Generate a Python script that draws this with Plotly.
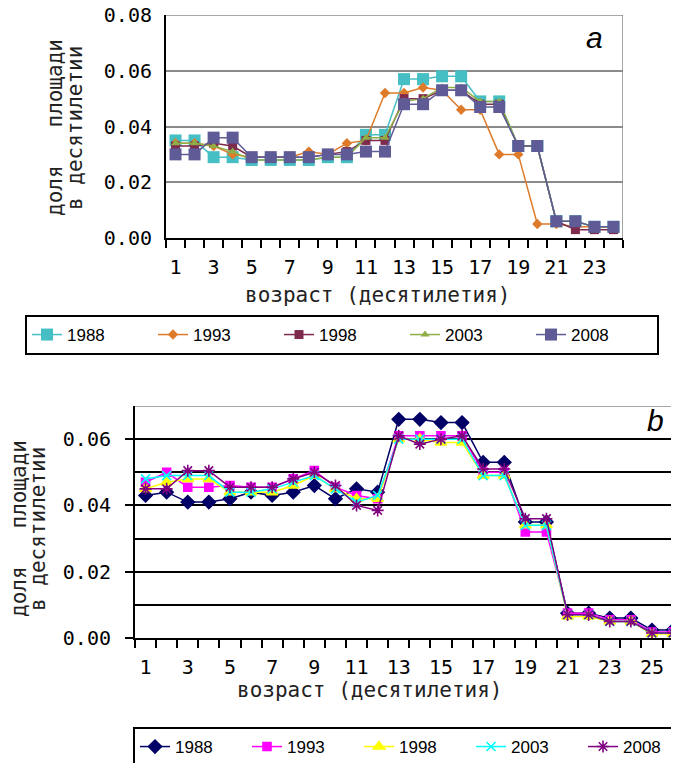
import plotly.graph_objects as go

# page body has an 8px margin: the figure is placed at (8, 8) in the window
OX, OY = 8, 8
W, H = 671, 755

# ---------------- data ----------------
ages_a = list(range(1, 25))
ages_b = list(range(1, 27))
years = ["1988", "1993", "1998", "2003", "2008"]

a_1988 = [0.035, 0.035, 0.029, 0.029, 0.028, 0.028, 0.028, 0.028, 0.029, 0.029, 0.037, 0.037,
          0.057, 0.057, 0.058, 0.058, 0.049, 0.049, 0.033, 0.033, 0.006, 0.006, 0.004, 0.004]
a_1993 = [0.034, 0.034, 0.033, 0.030, 0.029, 0.029, 0.029, 0.031, 0.030, 0.034, 0.035, 0.052,
          0.052, 0.054, 0.053, 0.046, 0.046, 0.030, 0.030, 0.005, 0.005, 0.004, 0.004, 0.004]
a_1998 = [0.033, 0.033, 0.034, 0.033, 0.029, 0.029, 0.029, 0.029, 0.030, 0.031, 0.035, 0.035,
          0.050, 0.050, 0.053, 0.053, 0.048, 0.048, 0.033, 0.033, 0.006, 0.003, 0.003, 0.003]
a_2003 = [0.034, 0.034, 0.033, 0.031, 0.028, 0.028, 0.028, 0.028, 0.029, 0.029, 0.036, 0.036,
          0.049, 0.050, 0.054, 0.054, 0.049, 0.049, 0.033, 0.033, 0.006, 0.006, 0.004, 0.004]
a_2008 = [0.030, 0.030, 0.036, 0.036, 0.029, 0.029, 0.029, 0.029, 0.030, 0.030, 0.031, 0.031,
          0.048, 0.048, 0.053, 0.053, 0.047, 0.047, 0.033, 0.033, 0.006, 0.006, 0.004, 0.004]

b_1988 = [0.043, 0.044, 0.041, 0.041, 0.042, 0.044, 0.043, 0.044, 0.046, 0.042, 0.045, 0.044, 0.066,
          0.066, 0.065, 0.065, 0.053, 0.053, 0.035, 0.035, 0.0075, 0.0075, 0.006, 0.006, 0.0024, 0.0024]
b_1993 = [0.047, 0.050, 0.0455, 0.0455, 0.046, 0.0455, 0.0455, 0.048, 0.0505, 0.0455, 0.043, 0.042, 0.061,
          0.061, 0.061, 0.061, 0.050, 0.050, 0.032, 0.032, 0.0075, 0.0075, 0.0055, 0.0055, 0.0018, 0.0018]
b_1998 = [0.045, 0.047, 0.048, 0.048, 0.044, 0.044, 0.044, 0.046, 0.049, 0.045, 0.042, 0.042, 0.060,
          0.060, 0.059, 0.059, 0.049, 0.049, 0.034, 0.034, 0.0065, 0.0065, 0.005, 0.005, 0.0012, 0.0012]
b_2003 = [0.048, 0.049, 0.049, 0.049, 0.044, 0.044, 0.045, 0.047, 0.049, 0.045, 0.041, 0.043, 0.060,
          0.060, 0.060, 0.060, 0.049, 0.049, 0.034, 0.034, 0.007, 0.007, 0.005, 0.005, 0.0015, 0.0015]
b_2008 = [0.045, 0.045, 0.0505, 0.0505, 0.0455, 0.0455, 0.0455, 0.048, 0.050, 0.046, 0.040, 0.0385, 0.061,
          0.0585, 0.060, 0.061, 0.051, 0.051, 0.036, 0.036, 0.007, 0.007, 0.005, 0.005, 0.0015, 0.0015]

series_a = [a_1988, a_1993, a_1998, a_2003, a_2008]
series_b = [b_1988, b_1993, b_1998, b_2003, b_2008]

y_ticks_a = [0.0, 0.02, 0.04, 0.06, 0.08]
y_labels_a = ["0.00", "0.02", "0.04", "0.06", "0.08"]
y_ticks_b = [0.0, 0.02, 0.04, 0.06]
y_labels_b = ["0.00", "0.02", "0.04", "0.06"]

x_title = "возраст (десятилетия)"
y_title_1 = "доля   площади"
y_title_2 = "в десятилетии"

# ---------------- styles ----------------
style_a = [
    dict(color="#45BFC4", symbol="square", size=12, lw=1.5),
    dict(color="#DE7B2A", symbol="diamond", size=8, lw=1.5),
    dict(color="#7E2B4E", symbol="square", size=9, lw=1.5),
    dict(color="#8FAE45", symbol="triangle-up", size=8, lw=1.5),
    dict(color="#5E5B97", symbol="square", size=12, lw=1.5),
]
style_b = [
    dict(color="#000066", symbol="diamond", size=10, lw=1.5),
    dict(color="#FF00FF", symbol="square", size=8, lw=1.5),
    dict(color="#FFFF00", symbol="triangle-up", size=10, lw=1.5),
    dict(color="#00FFFF", symbol="x-thin", size=9, lw=1.5),
    dict(color="#800080", symbol="asterisk", size=10, lw=1.5),
]

fig = go.Figure()

for name, vals, st in zip(years, series_a, style_a):
    fig.add_trace(go.Scatter(
        x=ages_a, y=vals, name=name, mode="lines+markers",
        line=dict(color=st["color"], width=st["lw"]),
        marker=dict(symbol=st["symbol"], size=st["size"], color=st["color"]),
        xaxis="x", yaxis="y", legend="legend",
    ))

for name, vals, st in zip(years, series_b, style_b):
    fig.add_trace(go.Scatter(
        x=ages_b, y=vals, name=name, mode="lines+markers",
        line=dict(color=st["color"], width=st["lw"]),
        marker=dict(symbol=st["symbol"], size=st["size"], color=st["color"],
                    line=dict(color=st["color"], width=1.6)),
        xaxis="x2", yaxis="y2", legend="legend2",
    ))

mono = "DejaVu Sans Mono"
tickfont = dict(family=mono, size=20, color="black")


def px_x(p):
    return (p - OX) / W


def px_y(p):
    return 1 - (p - OY) / H


fig.update_layout(
    width=W, height=H,
    margin=dict(l=0, r=0, t=0, b=0, autoexpand=False),
    paper_bgcolor="white", plot_bgcolor="white",
    showlegend=True,
    xaxis=dict(
        domain=[px_x(166), px_x(623)], range=[0.5, 24.5], anchor="y",
        tickmode="array", tickvals=list(range(1, 25, 2)), ticktext=[str(v) for v in range(1, 25, 2)],
        ticks="", ticklabelstandoff=10, tickfont=tickfont,
        showline=True, linecolor="black", linewidth=2, showgrid=False, zeroline=False,
        minor=dict(tickvals=[v + 0.5 for v in range(0, 25)], ticks="outside", ticklen=8,
                   tickwidth=2, tickcolor="black", showgrid=False),
    ),
    yaxis=dict(
        domain=[px_y(238), px_y(15)], range=[0, 0.08], anchor="x",
        tickmode="array", tickvals=y_ticks_a, ticktext=y_labels_a,
        ticks="", tickfont=tickfont, ticklabelstandoff=8, ticklabeloverflow="allow",
        showline=True, linecolor="black", linewidth=2,
        showgrid=True, gridcolor="#8a8a8a", gridwidth=1.5, zeroline=False,
    ),
    xaxis2=dict(
        domain=[px_x(135), 1.0], range=[0.5, 0.5 + (679 - 135) / 21.1], anchor="y2",
        tickmode="array", tickvals=list(range(1, 27, 2)), ticktext=[str(v) for v in range(1, 27, 2)],
        ticks="", ticklabelstandoff=10, tickfont=tickfont,
        showline=True, linecolor="black", linewidth=2, showgrid=False, zeroline=False,
        minor=dict(tickvals=[v + 0.5 for v in range(0, 27)], ticks="outside", ticklen=8,
                   tickwidth=2, tickcolor="black", showgrid=False),
    ),
    yaxis2=dict(
        domain=[px_y(638), px_y(406)], range=[0, 0.07], anchor="x2",
        tickmode="array", tickvals=y_ticks_b, ticktext=y_labels_b,
        ticks="outside", ticklen=8, tickwidth=2, tickcolor="black",
        tickfont=tickfont, ticklabelstandoff=10,
        showline=True, linecolor="black", linewidth=2,
        showgrid=True, gridcolor="black", gridwidth=2, zeroline=False,
        minor=dict(tickvals=[0.01, 0.03, 0.05], showgrid=True, gridcolor="black", gridwidth=2, ticks=""),
    ),
    legend=dict(
        orientation="h", x=px_x(25), y=px_y(315), xanchor="left", yanchor="top",
        bordercolor="black", borderwidth=2, bgcolor="white",
        font=dict(family="Liberation Sans", size=17, color="black"),
        entrywidth=81, entrywidthmode="pixels", itemwidth=30,
    ),
    legend2=dict(
        orientation="h", x=px_x(133), y=px_y(727), xanchor="left", yanchor="top",
        bordercolor="black", borderwidth=2, bgcolor="white",
        font=dict(family="Liberation Sans", size=17, color="black"),
        entrywidth=67, entrywidthmode="pixels", itemwidth=30,
    ),
)

# border lines (top/right in gray)
fig.add_shape(type="line", xref="x", yref="y", x0=0.5, x1=24.5, y0=0.08, y1=0.08,
              line=dict(color="#8a8a8a", width=1.5))
fig.add_shape(type="line", xref="x", yref="y", x0=24.5, x1=24.5, y0=0, y1=0.08,
              line=dict(color="#8a8a8a", width=1.5))
fig.add_shape(type="line", xref="x2", yref="y2", x0=0.5, x1=27, y0=0.07, y1=0.07,
              line=dict(color="#8a8a8a", width=1.5))

ann_font = dict(family=mono, size=21, color="#222222")
anns = [
    dict(text=y_title_1, x=px_x(55), y=px_y(128), textangle=-90),
    dict(text=y_title_2, x=px_x(75), y=px_y(128), textangle=-90),
    dict(text=y_title_1, x=px_x(19), y=px_y(529), textangle=-90),
    dict(text=y_title_2, x=px_x(38), y=px_y(529), textangle=-90),
    dict(text=x_title, x=px_x(378), y=px_y(295), textangle=0),
    dict(text=x_title, x=px_x(370), y=px_y(690), textangle=0),
]
for a in anns:
    fig.add_annotation(xref="paper", yref="paper", showarrow=False,
                       xanchor="center", yanchor="middle", font=ann_font, **a)

fig.add_annotation(xref="paper", yref="paper", x=px_x(594), y=px_y(38), text="<i>a</i>",
                   showarrow=False, xanchor="center", yanchor="middle",
                   font=dict(family="Liberation Sans", size=30, color="black"))
fig.add_annotation(xref="paper", yref="paper", x=px_x(655), y=px_y(420), text="<i>b</i>",
                   showarrow=False, xanchor="center", yanchor="middle",
                   font=dict(family="Liberation Sans", size=30, color="black"))

fig.write_html("out.html")
